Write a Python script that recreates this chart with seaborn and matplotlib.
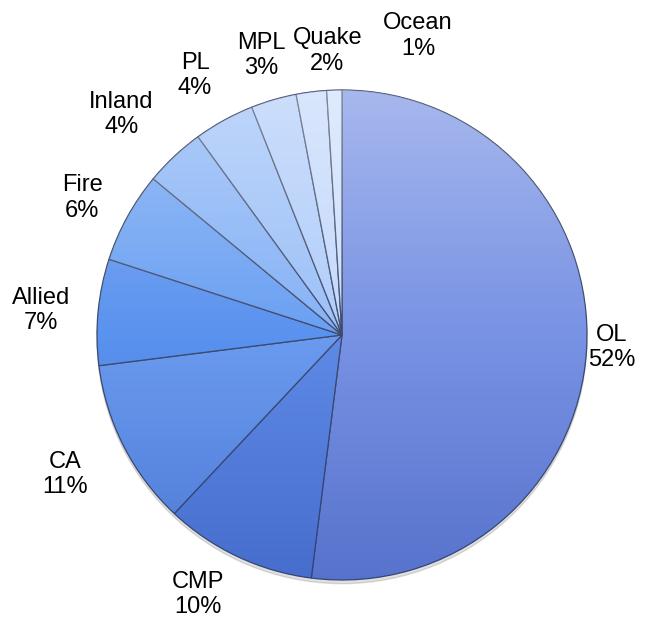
import numpy as np
import seaborn as sns
import matplotlib.pyplot as plt
from matplotlib.patches import Circle

# Premium share by line of business
lines = ["OL", "CMP", "CA", "Allied", "Fire", "Inland", "PL", "MPL", "Quake", "Ocean"]
shares = [52, 10, 11, 7, 6, 4, 4, 3, 2, 1]
slice_colors = ["#7892e4", "#5f8ae6", "#6a9bf0", "#5a92ef", "#6aa0f2",
                "#86b2f6", "#9cc0f8", "#b0cdfa", "#c4d9fc", "#cddffc"]

# label centres, in pie-radius units
label_pos = [(1.10, -0.05), (-0.59, -1.06), (-1.13, -0.57), (-1.23, 0.10),
             (-1.06, 0.56), (-0.90, 0.90), (-0.60, 1.06), (-0.33, 1.14),
             (-0.06, 1.16), (0.31, 1.22)]

sns.set_theme(style="white")
plt.rcParams["font.family"] = ["Liberation Sans", "DejaVu Sans"]

fig = plt.figure(figsize=(6.62, 6.22), dpi=100)
ax = fig.add_axes([0, 0, 1, 1])

# soft shadow below the pie
shadow = Circle((0.0, -0.015), 1.0, color="#000000", alpha=0.12, zorder=0)
ax.add_patch(shadow)

wedges, _ = ax.pie(shares, colors=slice_colors, startangle=90, counterclock=False,
                   radius=1.0, wedgeprops=dict(edgecolor="#3d4a6b", linewidth=0.9))

# vertical light-to-dark shading over the whole pie
t = np.linspace(0, 1, 256)[:, None] * np.ones((1, 2))
rgba = np.zeros((256, 2, 4))
top = np.array([1.0, 1.0, 1.0])
bottom = np.array([0.10, 0.22, 0.62])
mix = (t < 0.5)[..., None]
rgba[..., :3] = np.where(mix, top, bottom)
rgba[..., 3] = np.abs(t - 0.5) * 0.7
img = ax.imshow(rgba, extent=(-1, 1, -1, 1), origin="upper", zorder=3,
                interpolation="bilinear", aspect="auto")
clip = Circle((0, 0), 1.0, transform=ax.transData)
img.set_clip_path(clip)

for name, val, (lx, ly) in zip(lines, shares, label_pos):
    ax.text(lx, ly, f"{name}\n{val}%", ha="center", va="center",
            fontsize=17, linespacing=1.2, color="black", zorder=5)

ax.set_xlim(-342 / 245, 320 / 245)
ax.set_ylim(-287 / 245, 335 / 245)
ax.set_aspect("equal")
ax.axis("off")

fig.savefig("out.png", dpi=100, facecolor="white")
